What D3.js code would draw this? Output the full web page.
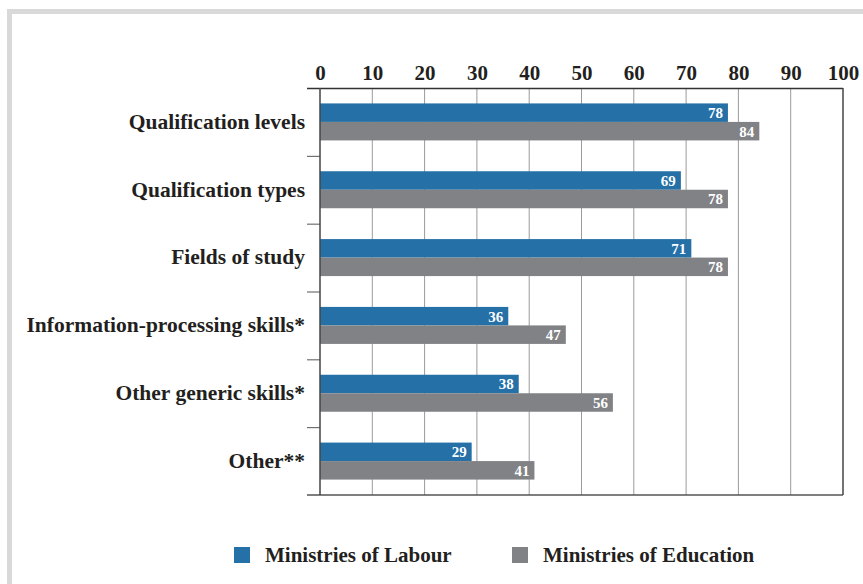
<!DOCTYPE html>
<html>
<head>
<meta charset="utf-8">
<script src="https://cdn.jsdelivr.net/npm/d3@7"></script>
<style>
  html, body { margin: 0; padding: 0; background: #fff; }
  svg { display: block; }
  text { font-family: "Liberation Serif", "Times New Roman", serif; font-weight: bold; }
</style>
</head>
<body>
<svg id="chart" width="863" height="584"></svg>
<script>
// Data
const categories = [
  "Qualification levels",
  "Qualification types",
  "Fields of study",
  "Information-processing skills*",
  "Other generic skills*",
  "Other**"
];
const labour = [78, 69, 71, 36, 38, 29];
const education = [84, 78, 78, 47, 56, 41];
const seriesNames = ["Ministries of Labour", "Ministries of Education"];
const tickValues = [0, 10, 20, 30, 40, 50, 60, 70, 80, 90, 100];

const colors = ["#2470a7", "#818286"];
const textColor = "#231f20";

const svg = d3.select("#chart");

// Frame
svg.append("rect").attr("x", 7).attr("y", 9).attr("width", 856).attr("height", 5).attr("fill", "#d9d9d9");
svg.append("rect").attr("x", 7).attr("y", 9).attr("width", 5).attr("height", 575).attr("fill", "#d9d9d9");

const plotLeft = 320, plotRight = 843, plotTop = 88, plotBottom = 495;
const pairHeight = 37;

const x = d3.scaleLinear().domain([0, 100]).range([plotLeft, plotRight]);
const y = d3.scaleBand().domain(categories).range([plotTop, plotBottom]);
const inner = d3.scaleBand().domain(seriesNames).range([0, pairHeight]);
const barOffset = (y.bandwidth() - pairHeight) / 2;

// Vertical grid lines
svg.append("g").selectAll("line").data(tickValues.slice(1, -1)).join("line")
  .attr("x1", d => x(d)).attr("x2", d => x(d))
  .attr("y1", plotTop).attr("y2", plotBottom)
  .attr("stroke", "#9a9a9a").attr("stroke-width", 1);

// Top axis with labels
const xAxis = d3.axisTop(x).tickValues(tickValues).tickSize(0).tickPadding(8).tickFormat(d3.format("d"));
const gx = svg.append("g").attr("transform", `translate(0,${plotTop})`).call(xAxis);
gx.select(".domain").remove();
gx.selectAll("text").attr("font-size", 21).attr("fill", textColor)
  .attr("font-family", "Liberation Serif").attr("font-weight", "bold");

// Left category axis
const yAxis = d3.axisLeft(y).tickSize(0).tickPadding(15);
const gy = svg.append("g").attr("transform", `translate(${plotLeft},0)`).call(yAxis);
gy.select(".domain").remove();
gy.selectAll("text").attr("font-size", 21.5).attr("fill", textColor)
  .attr("font-family", "Liberation Serif").attr("font-weight", "bold");

// Separator ticks between categories
svg.append("g").selectAll("line").data(categories.slice(1)).join("line")
  .attr("x1", plotLeft - 13).attr("x2", plotLeft)
  .attr("y1", d => y(d) + 0.5).attr("y2", d => y(d) + 0.5)
  .attr("stroke", "#555").attr("stroke-width", 1);

// Bars
const rows = categories.map((c, i) => ({ cat: c, vals: [labour[i], education[i]] }));
const groups = svg.append("g").selectAll("g").data(rows).join("g")
  .attr("transform", d => `translate(0,${y(d.cat) + barOffset})`);

groups.selectAll("rect").data(d => d.vals.map((v, j) => ({ v, s: seriesNames[j], j }))).join("rect")
  .attr("x", x(0))
  .attr("y", d => inner(d.s))
  .attr("width", d => x(d.v) - x(0))
  .attr("height", inner.bandwidth())
  .attr("fill", d => colors[d.j]);

groups.selectAll("text.val").data(d => d.vals.map((v, j) => ({ v, s: seriesNames[j], j }))).join("text")
  .attr("class", "val")
  .attr("x", d => x(d.v) - 5)
  .attr("y", d => inner(d.s) + inner.bandwidth() / 2)
  .attr("dy", "0.36em")
  .attr("text-anchor", "end")
  .attr("font-size", 15)
  .attr("fill", "#fff")
  .text(d => d.v);

// Axis frame lines
svg.append("line").attr("x1", plotLeft - 13).attr("x2", plotRight).attr("y1", plotTop + 0.5).attr("y2", plotTop + 0.5)
  .attr("stroke", "#333").attr("stroke-width", 1.5);
svg.append("line").attr("x1", plotLeft - 13).attr("x2", plotRight).attr("y1", plotBottom).attr("y2", plotBottom)
  .attr("stroke", "#555").attr("stroke-width", 1.5);
svg.append("line").attr("x1", plotLeft).attr("x2", plotLeft).attr("y1", plotTop).attr("y2", plotBottom)
  .attr("stroke", "#444").attr("stroke-width", 1.5);
svg.append("line").attr("x1", plotRight).attr("x2", plotRight).attr("y1", plotTop).attr("y2", plotBottom)
  .attr("stroke", "#444").attr("stroke-width", 1.5);

// Legend
const legendX = [234, 512];
const legend = svg.append("g").selectAll("g").data(seriesNames).join("g")
  .attr("transform", (d, i) => `translate(${legendX[i]},547)`);
legend.append("rect").attr("width", 16).attr("height", 16).attr("fill", (d, i) => colors[i]);
legend.append("text").attr("x", 31).attr("y", 8).attr("dy", "0.34em")
  .attr("font-size", 21).attr("fill", textColor).text(d => d);
</script>
</body>
</html>
